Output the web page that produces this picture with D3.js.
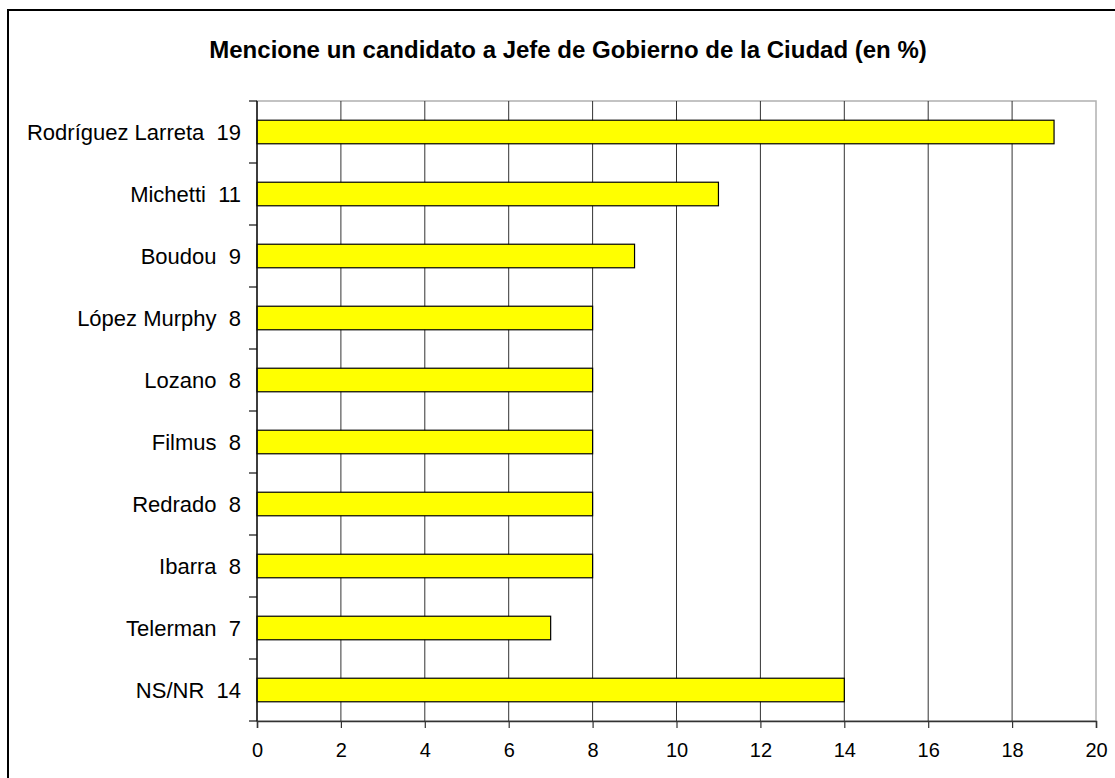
<!DOCTYPE html>
<html>
<head>
<meta charset="utf-8">
<script src="https://cdn.jsdelivr.net/npm/d3@7"></script>
<style>
  body { margin: 0; background: #fff; }
  svg { display: block; font-family: "Liberation Sans", Arial, sans-serif; }
</style>
</head>
<body>
<div id="chart"></div>
<script>
var candidatos = ['Rodríguez Larreta', 'Michetti', 'Boudou', 'López Murphy', 'Lozano',
  'Filmus', 'Redrado', 'Ibarra', 'Telerman', 'NS/NR'];
var valores = [19, 11, 9, 8, 8, 8, 8, 8, 7, 14];
var ticksX = [0, 2, 4, 6, 8, 10, 12, 14, 16, 18, 20];
var titulo = 'Mencione un candidato a Jefe de Gobierno de la Ciudad (en %)';

var width = 1115, height = 778;
var margin = {left: 257, right: 19, top: 101, bottom: 57};

var datos = candidatos.map(function(c, i) {
  return {nombre: c, valor: valores[i], etiqueta: c + '\u00a0\u00a0' + valores[i]};
});

var svg = d3.select('#chart').append('svg')
  .attr('width', width)
  .attr('height', height);

// marco exterior (se corta a la derecha y abajo)
svg.append('rect')
  .attr('x', 8).attr('y', 10)
  .attr('width', 1120).attr('height', 800)
  .attr('fill', '#fff')
  .attr('stroke', '#000')
  .attr('stroke-width', 2);

svg.append('text')
  .attr('x', 568)
  .attr('y', 58)
  .attr('text-anchor', 'middle')
  .style('font-size', '24px')
  .style('font-weight', 'bold')
  .text(titulo);

var x = d3.scaleLinear()
  .domain([0, 20])
  .range([margin.left, width - margin.right]);

var y = d3.scaleBand()
  .domain(candidatos)
  .range([margin.top, height - margin.bottom])
  .paddingInner(0.62)
  .paddingOuter(0.31);

var y0 = margin.top, y1 = height - margin.bottom;

// borde del área de trazado
svg.append('rect')
  .attr('x', x(0)).attr('y', y0)
  .attr('width', x(20) - x(0)).attr('height', y1 - y0)
  .attr('fill', 'none')
  .attr('stroke', '#b0b0b0')
  .attr('stroke-width', 1.5);

// líneas de cuadrícula verticales
svg.append('g').selectAll('line')
  .data(ticksX.slice(1, -1))
  .enter().append('line')
  .attr('x1', function(d) { return x(d); })
  .attr('x2', function(d) { return x(d); })
  .attr('y1', y0).attr('y2', y1)
  .attr('stroke', '#333')
  .attr('stroke-width', 1);

// barras
svg.append('g').selectAll('rect')
  .data(datos)
  .enter().append('rect')
  .attr('x', x(0))
  .attr('y', function(d) { return y(d.nombre); })
  .attr('width', function(d) { return x(d.valor) - x(0); })
  .attr('height', y.bandwidth())
  .attr('fill', '#ffff00')
  .attr('stroke', '#000')
  .attr('stroke-width', 1.2);

// eje x
var ejeX = svg.append('g')
  .attr('transform', 'translate(0,' + y1 + ')')
  .call(d3.axisBottom(x).tickValues(ticksX).tickSize(7).tickPadding(15));
ejeX.select('.domain').attr('stroke', '#333').attr('stroke-width', 1.5);
ejeX.selectAll('.tick line').attr('stroke', '#333').attr('stroke-width', 1.2);
ejeX.selectAll('.tick text')
  .style('font-size', '20px')
  .style('font-family', '"Liberation Sans", Arial, sans-serif')
  .attr('fill', '#000');

// eje y: marcas en los límites de categoría
var limites = d3.range(candidatos.length + 1).map(function(i) { return y0 + i * ((y1 - y0) / candidatos.length); });
svg.append('g').selectAll('line')
  .data(limites)
  .enter().append('line')
  .attr('x1', x(0) - 8).attr('x2', x(0))
  .attr('y1', function(d) { return d; })
  .attr('y2', function(d) { return d; })
  .attr('stroke', '#111')
  .attr('stroke-width', 1.2);

svg.append('line')
  .attr('x1', x(0)).attr('x2', x(0))
  .attr('y1', y0).attr('y2', y1)
  .attr('stroke', '#111')
  .attr('stroke-width', 1.5);

svg.append('g').selectAll('text')
  .data(datos)
  .enter().append('text')
  .attr('x', x(0) - 16)
  .attr('y', function(d) { return y(d.nombre) + y.bandwidth() / 2; })
  .attr('dy', '0.35em')
  .attr('text-anchor', 'end')
  .style('font-size', '22px')
  .text(function(d) { return d.etiqueta; });
</script>
</body>
</html>
